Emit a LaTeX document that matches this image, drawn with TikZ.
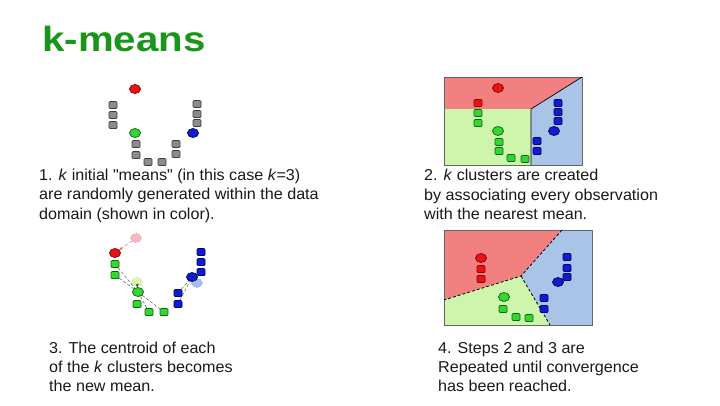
\documentclass[tikz,border=0pt]{standalone}
\usepackage{fontspec}
\setmainfont{Liberation Sans}[Ligatures=TeXOff]
\usetikzlibrary{shapes.geometric,arrows.meta}
\definecolor{titlegreen}{RGB}{25,150,25}
\definecolor{txt}{RGB}{25,25,25}
\definecolor{grayF}{RGB}{140,140,140}
\definecolor{grayD}{RGB}{60,60,60}
\definecolor{redF}{RGB}{230,20,20}
\definecolor{redD}{RGB}{140,0,0}
\definecolor{grnF}{RGB}{50,215,50}
\definecolor{grnD}{RGB}{15,100,15}
\definecolor{bluF}{RGB}{15,30,205}
\definecolor{bluD}{RGB}{0,0,110}
\definecolor{regR}{RGB}{242,128,128}
\definecolor{regG}{RGB}{205,245,172}
\definecolor{regB}{RGB}{170,196,232}
\definecolor{fPink}{RGB}{245,185,195}
\definecolor{fGrn}{RGB}{225,245,175}
\definecolor{fBlu}{RGB}{165,190,240}
\begin{document}
\begin{tikzpicture}[x=1pt,y=-1pt,
  pbox/.style={rectangle,minimum width=8pt,minimum height=7pt,inner sep=0pt,rounded corners=1pt,line width=0.7pt},
  pmean/.style={ellipse,minimum width=11pt,minimum height=9pt,inner sep=0pt,line width=0.7pt},
  gsq/.style={pbox,fill=grayF,draw=grayD},
  rsq/.style={pbox,fill=redF,draw=redD},
  gnsq/.style={pbox,fill=grnF,draw=grnD},
  bsq/.style={pbox,fill=bluF,draw=bluD},
  rmean/.style={pmean,fill=redF,draw=redD},
  gmean/.style={pmean,fill=grnF,draw=grnD},
  bmean/.style={pmean,fill=bluF,draw=bluD},
  oldmean/.style={pmean,densely dotted,line width=0.5pt},
  body/.style={anchor=base west,inner sep=0pt,text=txt,font=\fontsize{15.8}{19.5}\selectfont,xscale=1.02,transform shape},
  link/.style={densely dashed,line width=0.45pt,draw=black!70},
  moveto/.style={-{Stealth[length=3.5pt,width=3pt]},densely dashed,line width=0.45pt,draw=black!80},
  frame/.style={draw=black!60,line width=0.6pt},
  border/.style={draw=black,line width=0.7pt}
]
\useasboundingbox (0,0) rectangle (720,405);
\fill[white] (0,0) rectangle (720,405);

% title
\node[anchor=base west,inner sep=0pt,text=titlegreen,font=\fontsize{35}{40}\selectfont\bfseries,xscale=1.15,transform shape] (title) at (42,51) {k-means};

% ---------- panel 1 ----------
\node[rmean] (a_r) at (135,89) {};
\node[gsq] (a1) at (113,105) {};
\node[gsq] (a2) at (113,115) {};
\node[gsq] (a3) at (113,125) {};
\node[gmean] (a_g) at (135,133) {};
\node[gsq] (a4) at (136,144) {};
\node[gsq] (a5) at (136,155) {};
\node[gsq] (a6) at (148,162) {};
\node[gsq] (a7) at (162,162) {};
\node[gsq] (a8) at (197,104) {};
\node[gsq] (a9) at (197,114) {};
\node[gsq] (a10) at (197,123) {};
\node[bmean] (a_b) at (193,133) {};
\node[gsq] (a11) at (176,144) {};
\node[gsq] (a12) at (176,154) {};

\node[body] (t1a) at (39,180) {1. \textit{k} initial "means" (in this case \textit{k}=3)};
\node[body] (t1b) at (39,199.5) {are randomly generated within the data};
\node[body] (t1c) at (39,219) {domain (shown in color).};

% ---------- panel 2 ----------
\fill[regR] (444,77) -- (582,77) -- (531,109) -- (444,109) -- cycle;
\fill[regG] (444,109) -- (531,109) -- (531,165) -- (444,165) -- cycle;
\fill[regB] (531,109) -- (582,77) -- (582,165) -- (531,165) -- cycle;
\draw[frame] (444,77) rectangle (582,165);
\draw[border] (531,165) -- (531,109) -- (582,77);
\node[rmean] (b_r) at (498,88) {};
\node[rsq] (b1) at (478,103) {};
\node[gnsq] (b2) at (478,113) {};
\node[gnsq] (b3) at (478,123) {};
\node[gmean] (b_g) at (498,131) {};
\node[gnsq] (b4) at (499,142) {};
\node[gnsq] (b5) at (499,151) {};
\node[gnsq] (b6) at (511,158) {};
\node[gnsq] (b7) at (525,159) {};
\node[bsq] (b8) at (558,103) {};
\node[bsq] (b9) at (558,112) {};
\node[bsq] (b10) at (558,121) {};
\node[bmean] (b_b) at (554,131) {};
\node[bsq] (b11) at (537,141) {};
\node[bsq] (b12) at (537,151) {};

\node[body] (t2a) at (424,180.5) {2. \textit{k} clusters are created};
\node[body] (t2b) at (424,200.2) {by associating every observation};
\node[body] (t2c) at (424,219.9) {with the nearest mean.};

% ---------- panel 3 ----------
\node[oldmean,fill=fPink,draw=redF!60] (c_r0) at (136,238) {};
\node[rmean] (c_r) at (115,253) {};
\node[gnsq] (c1) at (115,264) {};
\node[gnsq] (c2) at (115,275) {};
\node[oldmean,fill=fGrn,draw=grnF!60] (c_g0) at (137,282) {};
\node[gmean] (c_g) at (138,292) {};
\node[gnsq] (c3) at (137,304) {};
\node[gnsq] (c4) at (149,312) {};
\node[gnsq] (c5) at (164,312) {};
\node[bsq] (c6) at (201,252) {};
\node[bsq] (c7) at (201,262) {};
\node[bsq] (c8) at (201,272) {};
\node[oldmean,fill=fBlu,draw=bluF!50] (c_b0) at (197,283) {};
\node[bmean] (c_b) at (192,277) {};
\node[bsq] (c9) at (178,293) {};
\node[bsq] (c10) at (178,304) {};
\draw[moveto,draw=redF!70] (c_r0) -- (c_r);
\draw[link] (c1) -- (c_g);
\draw[link] (c2) -- (c_g);
\draw[link] (c_g) -- (c4);
\draw[link] (c_g) -- (c5);
\draw[moveto] (c_g0) -- (c_g);
\draw[link] (c9) -- (c_b);
\draw[link] (c10) -- (c_b);
\draw[moveto] (c_b0) -- (c_b);

\node[body] (t3a) at (49,353.3) {3. The centroid of each};
\node[body] (t3b) at (49,372.6) {of the \textit{k} clusters becomes};
\node[body] (t3c) at (49,391.9) {the new mean.};

% ---------- panel 4 ----------
\coordinate (m) at (521,276);
\fill[regR] (444,230) -- (562,230) -- (m) -- (444,300) -- cycle;
\fill[regB] (562,230) -- (592,230) -- (592,325) -- (550,325) -- (m) -- cycle;
\fill[regG] (444,300) -- (m) -- (550,325) -- (444,325) -- cycle;
\draw[frame] (444,230) rectangle (592,325);
\draw[densely dashed,line width=0.8pt] (562,230) -- (m) -- (444,300);
\draw[densely dashed,line width=0.8pt] (m) -- (550,325);
\node[rmean] (d_r) at (481,258) {};
\node[rsq] (d1) at (481,269) {};
\node[rsq] (d2) at (481,279) {};
\node[gmean] (d_g) at (504,297) {};
\node[gnsq] (d3) at (503,309) {};
\node[gnsq] (d4) at (516,317) {};
\node[gnsq] (d5) at (529,318) {};
\node[bsq] (d6) at (567,257) {};
\node[bsq] (d7) at (567,268) {};
\node[bsq] (d8) at (567,277) {};
\node[bmean] (d_b) at (558,282) {};
\node[bsq] (d9) at (544,298) {};
\node[bsq] (d10) at (544,309) {};

\node[body] (t4a) at (438,353.3) {4. Steps 2 and 3 are};
\node[body] (t4b) at (438,372.6) {Repeated until convergence};
\node[body] (t4c) at (438,391.9) {has been reached.};
\end{tikzpicture}
\end{document}
